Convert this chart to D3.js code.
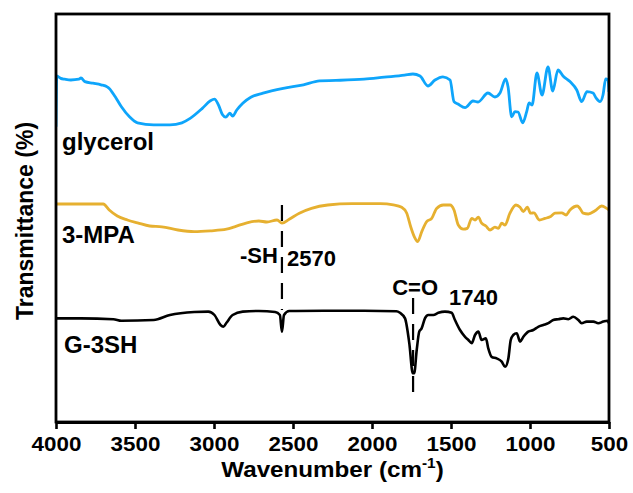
<!DOCTYPE html>
<html>
<head>
<meta charset="utf-8">
<script src="https://cdn.jsdelivr.net/npm/d3@7"></script>
<style>
  html, body { margin: 0; padding: 0; background: #fff; }
  svg { display: block; font-family: "Liberation Sans", Arial, sans-serif; }
</style>
</head>
<body>
<svg id="chart" width="633" height="493"></svg>
<script>
// FTIR spectra, [wavenumber (cm-1), transmittance (offset, a.u.)]
const glycerol = [
  [4000,73.8],[3995,86.5],[3970,85.9],[3945,85.7],[3906,85.5],[3855,85.7],[3842,86],[3817,85.1],
  [3766,84.7],[3715,84.3],[3676,83.8],[3663,83.4],[3625,81.3],[3586,78.8],[3535,76.3],[3484,74.8],
  [3382,74.3],[3279,74.3],[3203,74.8],[3151,75.9],[3074,78.4],[3023,80.3],[2997,80.7],[2972,79.3],
  [2946,76.8],[2926,76.2],[2900,77.2],[2882,76.5],[2856,78],[2818,79.7],[2767,81.2],[2690,82.2],
  [2562,83.4],[2434,84.3],[2332,85.3],[2229,85.4],[2050,85.7],[1922,86.2],[1794,86.7],[1741,87],
  [1696,86.5],[1646,84],[1601,85.5],[1551,86.3],[1506,85.5],[1481,80.1],[1456,79.5],[1411,78.6],
  [1361,80.25],[1329,80],[1266,82.25],[1222,81.25],[1190,82.25],[1154,85.75],[1139,83.8],[1116,76.3],
  [1095,77.6],[1076,77.5],[1046,74.8],[1021,77.6],[1006,79.75],[987,79.25],[956,87.25],[924,81.75],
  [886,88.75],[856,82.75],[823,88],[791,86.5],[747,85.1],[704,83],[673,80.1],[639,82.6],[601,82.25],
  [582,81],[557,80.1],[538,81.75],[521,85.75],[506,85.5],[500,82.5]
];

const mpa = [
  [4000,54.5],[3701,54.5],[3663,53],[3612,51.5],[3548,50.5],[3484,49.8],[3407,49],[3330,48.8],
  [3228,48],[3125,47.6],[3023,47.8],[2921,48.2],[2870,48.8],[2792,49.8],[2716,50.25],[2665,50],
  [2601,50.5],[2570,49.7],[2524,50.7],[2460,52.2],[2383,53.4],[2280,54.25],[2127,54.6],[1947,54.6],
  [1865,54.3],[1812,53.7],[1780,52.2],[1755,48.8],[1732,46.3],[1711,45.1],[1685,47.6],[1654,50.1],
  [1622,50.9],[1591,53.4],[1549,54.25],[1506,54.25],[1481,53],[1454,49.25],[1422,48.2],[1397,48.4],
  [1369,50.9],[1348,50.5],[1327,51.2],[1306,49.7],[1279,49],[1253,48],[1222,48.7],[1200,48.4],
  [1179,49.7],[1158,49.25],[1127,52.2],[1089,54.25],[1063,53.7],[1042,52.6],[1017,53.7],[996,52.2],
  [975,52.3],[941,50.5],[905,50.9],[873,51.3],[842,52.2],[799,52.3],[772,51.75],[747,53],[701,54],
  [684,53.4],[663,52.2],[631,52],[589,52.8],[546,54],[515,53.4],[500,53]
];

const g3sh = [
  [4000,25.9],[3842,25.9],[3637,25.7],[3586,25.3],[3382,25.5],[3279,26.75],[3125,27.5],[3036,27.6],
  [2997,26.75],[2959,24.25],[2941,23.8],[2921,24.8],[2882,26.75],[2818,27.6],[2716,27.75],[2613,27.5],
  [2583,26.75],[2570,22.6],[2557,26.75],[2524,27.75],[2306,27.8],[2050,27.8],[1846,27.7],[1823,27.3],
  [1791,25.9],[1764,19.7],[1742,12.2],[1733,12.2],[1717,18],[1701,22.6],[1686,23.4],[1665,25.9],
  [1644,26.75],[1612,26.75],[1580,27.3],[1538,27.6],[1496,27.3],[1475,25.5],[1443,23],[1411,21.3],
  [1390,20.5],[1369,19.7],[1348,21.75],[1327,22.6],[1306,20.5],[1279,20.9],[1264,18.4],[1243,16.3],
  [1211,15.9],[1179,15.1],[1158,13.8],[1137,15.9],[1122,20.5],[1106,21.75],[1084,22.2],[1063,20.1],
  [1042,21.3],[1011,22.6],[979,23],[948,23.8],[916,24.25],[884,24.7],[853,25.5],[821,25.7],
  [789,25.9],[758,25.7],[726,26.3],[694,25.5],[673,24.7],[641,25.1],[599,25.1],[568,24.7],
  [536,25.1],[511,25.3],[500,24.7]
];

const seriesNames = ["glycerol", "3-MPA", "G-3SH"];
const seriesColors = ["#0ea5fb", "#e6b030", "#000000"];
const xTicks = [4000, 3500, 3000, 2500, 2000, 1500, 1000, 500];

// marked bands: wavenumber, dashed guide extent (top, bottom), group label and number
const bandWn = [2570, 1740];
const bandTop = [54.25, 31];
const bandBottom = [28, 6.25];
const bandGroup = ["-SH", "C=O"];
const bandText = ["2570", "1740"];

const svg = d3.select("#chart");
const margin = { left: 56, right: 24, top: 14, bottom: 71 };
const W = 633, H = 493;
const x = d3.scaleLinear().domain([4000, 500]).range([margin.left, W - margin.right]);
const y = d3.scaleLinear().domain([0, 102]).range([H - margin.bottom, margin.top]);

svg.append("clipPath").attr("id", "plotClip")
  .append("rect")
  .attr("x", x(4000)).attr("y", y(102))
  .attr("width", x(500) - x(4000)).attr("height", y(0) - y(102));

const line = d3.line()
  .x(d => x(d[0]))
  .y(d => y(d[1]))
  .curve(d3.curveMonotoneX);

const plot = svg.append("g").attr("clip-path", "url(#plotClip)");
[glycerol, mpa, g3sh].forEach((s, i) => {
  plot.append("path")
    .datum(s)
    .attr("fill", "none")
    .attr("stroke", seriesColors[i])
    .attr("stroke-width", i === 2 ? 2.6 : 2.8)
    .attr("stroke-linejoin", "round")
    .attr("d", line);
});

// dashed guides at the marked bands
bandWn.forEach((wn, i) => {
  svg.append("line")
    .attr("x1", x(wn)).attr("x2", x(wn))
    .attr("y1", y(bandTop[i])).attr("y2", y(bandBottom[i]))
    .attr("stroke", "#000")
    .attr("stroke-width", 2.2)
    .attr("stroke-dasharray", "16,10");
});

// frame
svg.append("rect")
  .attr("x", x(4000)).attr("y", y(102))
  .attr("width", x(500) - x(4000)).attr("height", y(0) - y(102))
  .attr("fill", "none").attr("stroke", "#000").attr("stroke-width", 2.8);

// bottom axis
const xAxis = d3.axisBottom(x).tickValues(xTicks).tickSize(7).tickSizeOuter(0).tickPadding(8)
  .tickFormat(d3.format("d"));
const gx = svg.append("g").attr("transform", `translate(0,${y(0)})`).call(xAxis);
gx.select(".domain").attr("stroke-width", 2.8);
gx.selectAll(".tick line").attr("stroke-width", 2.6);
gx.selectAll(".tick text")
  .attr("font-family", "Liberation Sans, Arial, sans-serif")
  .attr("font-size", 20).attr("font-weight", "bold").attr("fill", "#000")
  .attr("transform", "scale(1.12,1)");

// axis titles
const xt = svg.append("text")
  .attr("transform", `translate(${(x(4000) + x(500)) / 2},477) scale(1.1,1)`)
  .attr("text-anchor", "middle")
  .attr("font-size", 22).attr("font-weight", "bold");
xt.append("tspan").text("Wavenumber (cm");
xt.append("tspan").attr("font-size", 14).attr("dy", -9).text("-1");
xt.append("tspan").attr("dy", 9).text(")");

svg.append("text")
  .attr("transform", `translate(33,${(y(0) + y(102)) / 2 + 3}) rotate(-90)`)
  .attr("text-anchor", "middle")
  .attr("font-size", 23).attr("font-weight", "bold")
  .text("Transmittance (%)");

// series labels
const labelPos = [[62, 150], [62, 243], [64, 353]];
seriesNames.forEach((n, i) => {
  svg.append("text")
    .attr("x", labelPos[i][0]).attr("y", labelPos[i][1])
    .attr("font-size", 24).attr("font-weight", "bold")
    .text(n);
});

// band labels
const groupPos = [[x(bandWn[0]) - 4, 263], [x(bandWn[1]) + 25, 295]];
const numPos = [[x(bandWn[0]) + 5, 266], [x(bandWn[1]) + 36, 305]];
bandWn.forEach((wn, i) => {
  svg.append("text")
    .attr("x", groupPos[i][0]).attr("y", groupPos[i][1])
    .attr("text-anchor", "end")
    .attr("font-size", 22).attr("font-weight", "bold")
    .text(bandGroup[i]);
  svg.append("text")
    .attr("x", numPos[i][0]).attr("y", numPos[i][1])
    .attr("font-size", 22).attr("font-weight", "bold")
    .text(bandText[i]);
});
</script>
</body>
</html>
